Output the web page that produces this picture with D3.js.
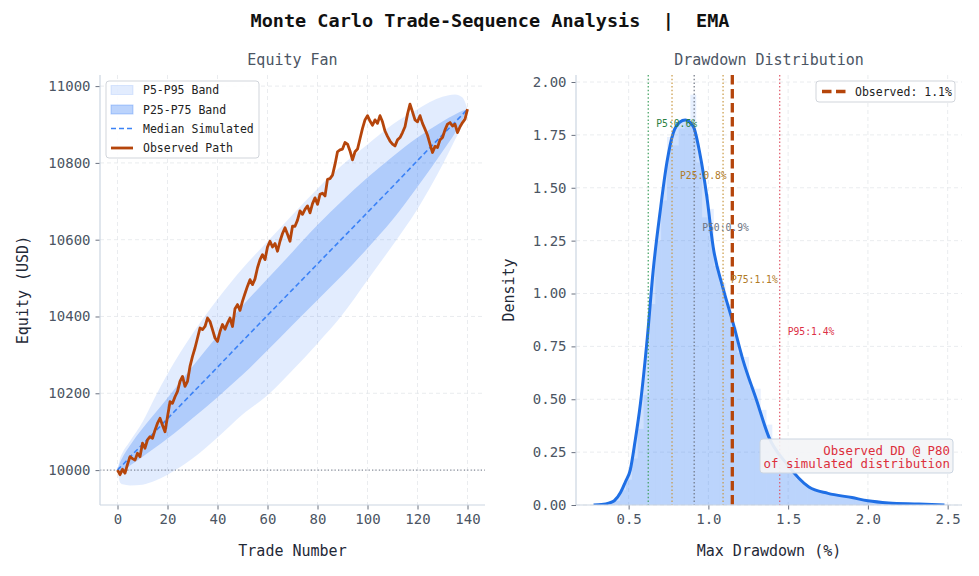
<!DOCTYPE html>
<html><head><meta charset="utf-8">
<script src="https://cdn.jsdelivr.net/npm/d3@7"></script>
<style>
body{margin:0;background:#fff;}
svg{display:block;}
text{font-family:'DejaVu Sans Mono',monospace;}
</style>
</head><body>
<svg id="c" width="979" height="576"></svg>
<script>
// ---------- DATA ----------
const mainTitle = "Monte Carlo Trade-Sequence Analysis  |  EMA";
const bandTrades = [0,1,2,5,10,15,20,30,40,50,60,70,80,90,100,110,120,130,135,138,140];
const p5Band  = [10000,9968,9963,9960,9962,9972,9988,10030,10085,10145,10195,10260,10330,10405,10495,10585,10680,10795,10860,10900,10940];
const p25Band = [10000,9995,9998,10012,10035,10058,10082,10135,10190,10248,10312,10378,10443,10508,10578,10652,10738,10830,10878,10913,10940];
const medianSim = [10000,10007,10013,10034,10067,10100,10134,10201,10268,10336,10403,10470,10537,10604,10671,10738,10806,10873,10906,10926,10940];
const p75Band = [10000,10020,10033,10064,10108,10148,10188,10270,10350,10428,10498,10568,10638,10702,10762,10816,10866,10908,10926,10936,10940];
const p95Band = [10000,10030,10045,10075,10125,10190,10250,10355,10445,10525,10595,10665,10733,10795,10848,10900,10940,10972,10978,10970,10940];
const observedPath = [
 10000, 9988,10002, 9992,10015,10035,10030,10026,10044,10035,
 10070,10057,10079,10087,10083,10104,10122,10135,10117,10100,
 10139,10178,10174,10191,10205,10231,10244,10218,10231,10270,
 10296,10318,10344,10370,10366,10374,10396,10387,10366,10344,
 10335,10361,10379,10367,10383,10396,10374,10420,10431,10416,
 10440,10460,10479,10496,10483,10498,10527,10548,10561,10548,
 10581,10596,10581,10590,10570,10596,10616,10631,10614,10596,
 10635,10635,10651,10675,10666,10679,10688,10670,10694,10709,
 10692,10718,10721,10714,10757,10759,10768,10796,10829,10834,
 10836,10853,10849,10831,10808,10829,10836,10863,10890,10912,
 10923,10909,10898,10912,10903,10923,10907,10883,10869,10857,
 10849,10844,10860,10866,10879,10894,10927,10953,10933,10912,
 10907,10923,10903,10888,10872,10849,10827,10843,10840,10860,
 10866,10886,10901,10905,10896,10901,10879,10894,10905,10914,
 10940];
const startEquity = 10000;
const xTicksLeft = [0,20,40,60,80,100,120,140];
const yTicksLeft = [10000,10200,10400,10600,10800,11000];

const kdeX = [0.28,0.33,0.38,0.41,0.45,0.48,0.51,0.54,0.574,0.617,0.654,0.698,0.74,0.78,0.82,0.855,0.905,0.947,0.99,1.03,1.09,1.155,1.217,1.30,1.38,1.485,1.63,1.75,1.90,2.0,2.13,2.32,2.48];
const kdeY = [0,0.002,0.01,0.02,0.06,0.11,0.165,0.30,0.48,0.79,1.11,1.39,1.62,1.76,1.81,1.82,1.79,1.66,1.46,1.22,1.03,0.86,0.685,0.50,0.32,0.20,0.085,0.055,0.035,0.02,0.01,0.005,0.0];
const histStart = 0.30, histBinWidth = 0.0367;
const histDensity = [0,0,0.01,0.02,0.07,0.12,0.22,0.36,0.52,0.95,
 1.25,1.44,1.74,1.70,1.78,1.80,1.94,1.62,1.36,1.40,
 1.13,1.05,0.95,0.84,0.72,0.70,0.56,0.55,0.45,0.38,
 0.28,0.24,0.19,0.15,0.12,0.10,0.08,0.07,0.06,0.05,
 0.05,0.04,0.04,0.03,0.03,0.03,0.02,0.02,0.01,0.01,
 0.01,0,0.01,0,0,0.005,0,0,0,0.005];
const pctNames  = ["P5","P25","P50","P75","P95"];
const pctValues = [0.623,0.772,0.911,1.092,1.447];
const pctText   = ["0.6","0.8","0.9","1.1","1.4"];
const observedDD = 1.15;
const observedDDLabel = "1.1";
const observedRank = 80;
const xTicksRight = [0.5,1.0,1.5,2.0,2.5];
const yTicksRight = [0,0.25,0.5,0.75,1.0,1.25,1.5,1.75,2.0];

// ---------- STYLE ----------
const BLUE = "#3b82f6", OBS = "#b5450b";
const pctLineColors = ["#3a9d5a","#c8963e","#6b7280","#c8963e","#e05263"];
const pctTextColors = ["#2a8040","#b07a26","#6b7280","#b07a26","#dc2f45"];
const spineColor = "#cbd5e1", gridColor = "#e5e7eb", tickText = "#4b5563";

const svg = d3.select("#c");
svg.append("text").attr("x",490).attr("y",27).attr("text-anchor","middle")
  .attr("font-size",18.5).attr("font-weight","bold").attr("fill","#111")
  .attr("xml:space","preserve").style("white-space","pre").text(mainTitle);

function axesFrame(g, x, y, xt, yt, L, R, T, B){
  g.append("g").selectAll("line").data(xt).join("line")
    .attr("x1",d=>x(d)).attr("x2",d=>x(d)).attr("y1",T).attr("y2",B)
    .attr("stroke",gridColor).attr("stroke-dasharray","4,3").attr("stroke-width",0.8);
  g.append("g").selectAll("line").data(yt).join("line")
    .attr("y1",d=>y(d)).attr("y2",d=>y(d)).attr("x1",L).attr("x2",R)
    .attr("stroke",gridColor).attr("stroke-dasharray","4,3").attr("stroke-width",0.8);
}
function axesSpines(g, x, y, xt, yt, fx, fy, L, R, T, B){
  const ax = g.append("g").attr("transform",`translate(0,${B})`)
    .call(d3.axisBottom(x).tickValues(xt).tickFormat(fx).tickSize(4.5).tickPadding(5));
  const ay = g.append("g").attr("transform",`translate(${L},0)`)
    .call(d3.axisLeft(y).tickValues(yt).tickFormat(fy).tickSize(4.5).tickPadding(5));
  [ax,ay].forEach(a=>{
    a.select(".domain").remove();
    a.selectAll("line").attr("stroke","#6b7280");
    a.selectAll("text").attr("fill",tickText).attr("font-size",14)
      .attr("font-family","'DejaVu Sans Mono',monospace");
  });
  g.append("line").attr("x1",L).attr("x2",L).attr("y1",T).attr("y2",B).attr("stroke",spineColor).attr("stroke-width",1.2);
  g.append("line").attr("x1",L).attr("x2",R).attr("y1",B).attr("y2",B).attr("stroke",spineColor).attr("stroke-width",1.2);
}

// ---------- LEFT: Equity Fan ----------
{
  const L=100,R=485,T=75,B=505;
  const xs = d3.extent(bandTrades); const xm=(xs[1]-xs[0])*0.05;
  const x = d3.scaleLinear().domain([xs[0]-xm, xs[1]+xm]).range([L,R]);
  const all = p5Band.concat(p95Band, observedPath);
  const ys = d3.extent(all); const ym=(ys[1]-ys[0])*0.05;
  const y = d3.scaleLinear().domain([ys[0]-ym, ys[1]+ym]).range([B,T]);
  const g = svg.append("g");
  svg.append("defs").append("clipPath").attr("id","clipL").append("rect").attr("x",L).attr("y",T).attr("width",R-L).attr("height",B-T);
  axesFrame(g,x,y,xTicksLeft,yTicksLeft,L,R,T,B);
  const pg = g.append("g").attr("clip-path","url(#clipL)");
  const idx = d3.range(bandTrades.length);
  pg.append("path").datum(idx).attr("fill",BLUE).attr("fill-opacity",0.15)
    .attr("d", d3.area().x(i=>x(bandTrades[i])).y0(i=>y(p5Band[i])).y1(i=>y(p95Band[i])).curve(d3.curveMonotoneX));
  pg.append("path").datum(idx).attr("fill",BLUE).attr("fill-opacity",0.3)
    .attr("d", d3.area().x(i=>x(bandTrades[i])).y0(i=>y(p25Band[i])).y1(i=>y(p75Band[i])).curve(d3.curveMonotoneX));
  pg.append("line").attr("x1",L).attr("x2",R).attr("y1",y(startEquity)).attr("y2",y(startEquity))
    .attr("stroke","#6b7280").attr("stroke-dasharray","1.2,2.2").attr("stroke-width",1);
  pg.append("path").datum(idx).attr("fill","none").attr("stroke",BLUE).attr("stroke-width",1.6)
    .attr("stroke-dasharray","5,3")
    .attr("d", d3.line().x(i=>x(bandTrades[i])).y(i=>y(medianSim[i])).curve(d3.curveMonotoneX));
  pg.append("path").datum(observedPath).attr("fill","none").attr("stroke",OBS).attr("stroke-width",2.8)
    .attr("stroke-linejoin","round")
    .attr("d", d3.line().x((d,i)=>x(i)).y(d=>y(d)));
  axesSpines(g,x,y,xTicksLeft,yTicksLeft,d3.format("d"),d3.format("d"),L,R,T,B);
  svg.append("text").attr("x",(L+R)/2).attr("y",65).attr("text-anchor","middle").attr("font-size",15).attr("fill","#4b5563").text("Equity Fan");
  svg.append("text").attr("x",(L+R)/2).attr("y",556).attr("text-anchor","middle").attr("font-size",15).attr("fill","#1f2937").text("Trade Number");
  svg.append("text").attr("transform",`translate(28,${(T+B)/2}) rotate(-90)`).attr("text-anchor","middle").attr("font-size",15).attr("fill","#1f2937").text("Equity (USD)");
  const lg = svg.append("g");
  lg.append("rect").attr("x",106).attr("y",81).attr("width",153).attr("height",77).attr("rx",3)
    .attr("fill","#fff").attr("fill-opacity",0.9).attr("stroke","#d1d5db");
  const rows=[90,109.5,128.5,148];
  lg.append("rect").attr("x",111).attr("y",rows[0]-4.5).attr("width",22).attr("height",9).attr("fill",BLUE).attr("fill-opacity",0.15).attr("stroke",BLUE).attr("stroke-opacity",0.15);
  lg.append("rect").attr("x",111).attr("y",rows[1]-4.5).attr("width",22).attr("height",9).attr("fill",BLUE).attr("fill-opacity",0.35).attr("stroke",BLUE).attr("stroke-opacity",0.35);
  lg.append("line").attr("x1",111).attr("x2",133).attr("y1",rows[2]).attr("y2",rows[2]).attr("stroke",BLUE).attr("stroke-width",1.6).attr("stroke-dasharray","5,3");
  lg.append("line").attr("x1",111).attr("x2",133).attr("y1",rows[3]).attr("y2",rows[3]).attr("stroke",OBS).attr("stroke-width",2.8);
  ["P5-P95 Band","P25-P75 Band","Median Simulated","Observed Path"].forEach((t,i)=>{
    lg.append("text").attr("x",143).attr("y",rows[i]).attr("dy","0.35em").attr("font-size",11.5).attr("fill","#222").text(t);
  });
}

// ---------- RIGHT: Drawdown Distribution ----------
{
  const L=576,R=962,T=75,B=505;
  const xs = d3.extent(kdeX); const xm=(xs[1]-xs[0])*0.05;
  const x = d3.scaleLinear().domain([xs[0]-xm, xs[1]+xm]).range([L,R]);
  const y = d3.scaleLinear().domain([0, d3.max(histDensity)*1.048]).range([B,T]);
  const g = svg.append("g");
  svg.select("defs").append("clipPath").attr("id","clipR").append("rect").attr("x",L).attr("y",T).attr("width",R-L).attr("height",B-T);
  axesFrame(g,x,y,xTicksRight,yTicksRight,L,R,T,B);
  const pg = g.append("g").attr("clip-path","url(#clipR)");
  pg.append("g").selectAll("rect").data(histDensity).join("rect")
    .attr("x",(d,i)=>x(histStart+i*histBinWidth))
    .attr("width",(d,i)=>x(histStart+(i+1)*histBinWidth)-x(histStart+i*histBinWidth))
    .attr("y",d=>y(d)).attr("height",d=>y(0)-y(d))
    .attr("fill",BLUE).attr("fill-opacity",0.13);
  const kidx = d3.range(kdeX.length);
  pg.append("path").datum(kidx).attr("fill",BLUE).attr("fill-opacity",0.25)
    .attr("d", d3.area().x(i=>x(kdeX[i])).y0(y(0)).y1(i=>y(kdeY[i])).curve(d3.curveMonotoneX));
  pg.append("path").datum(kidx).attr("fill","none").attr("stroke","#1f6fe5").attr("stroke-width",3)
    .attr("d", d3.line().x(i=>x(kdeX[i])).y(i=>y(kdeY[i])).curve(d3.curveMonotoneX));
  const yTop = y.domain()[1];
  pctValues.forEach((v,i)=>{
    pg.append("line").attr("x1",x(v)).attr("x2",x(v)).attr("y1",T).attr("y2",B)
      .attr("stroke",pctLineColors[i]).attr("stroke-width",1.3).attr("stroke-dasharray","1.5,2.2").attr("stroke-opacity",0.9);
  });
  pg.append("line").attr("x1",x(observedDD)).attr("x2",x(observedDD)).attr("y1",T).attr("y2",B)
    .attr("stroke",OBS).attr("stroke-width",3.3).attr("stroke-dasharray","9.5,4.5");
  pctValues.forEach((v,i)=>{
    pg.append("text").attr("x",x(v)+8).attr("y",y(yTop*(0.888-0.121*i))).attr("dy","0.35em")
      .attr("font-size",9.7).attr("fill",pctTextColors[i]).text(`${pctNames[i]}:${pctText[i]}%`);
  });
  axesSpines(g,x,y,xTicksRight,yTicksRight,d3.format(".1f"),d3.format(".2f"),L,R,T,B);
  svg.append("text").attr("x",(L+R)/2).attr("y",65).attr("text-anchor","middle").attr("font-size",15).attr("fill","#4b5563").text("Drawdown Distribution");
  svg.append("text").attr("x",(L+R)/2).attr("y",556).attr("text-anchor","middle").attr("font-size",15).attr("fill","#1f2937").text("Max Drawdown (%)");
  svg.append("text").attr("transform",`translate(514,${(T+B)/2}) rotate(-90)`).attr("text-anchor","middle").attr("font-size",15).attr("fill","#1f2937").text("Density");
  svg.append("rect").attr("x",816).attr("y",81).attr("width",139).attr("height",21).attr("rx",3)
    .attr("fill","#fff").attr("fill-opacity",0.9).attr("stroke","#d1d5db");
  svg.append("line").attr("x1",822).attr("x2",848).attr("y1",91.5).attr("y2",91.5).attr("stroke",OBS).attr("stroke-width",3.3).attr("stroke-dasharray","9.5,4.5");
  svg.append("text").attr("x",855).attr("y",91.5).attr("dy","0.35em").attr("font-size",11.5).attr("fill","#222").text(`Observed: ${observedDDLabel}%`);
  svg.append("rect").attr("x",760).attr("y",439).attr("width",193).attr("height",34).attr("rx",3)
    .attr("fill","#f3f4f6").attr("fill-opacity",0.92).attr("stroke","#cbd5e1");
  svg.append("text").attr("x",950).attr("y",450.5).attr("dy","0.35em").attr("text-anchor","end").attr("font-size",12.4).attr("fill","#dc2f3c").text(`Observed DD @ P${observedRank}`);
  svg.append("text").attr("x",950).attr("y",464).attr("dy","0.35em").attr("text-anchor","end").attr("font-size",12.4).attr("fill","#dc2f3c").text("of simulated distribution");
}
</script>
</body></html>
